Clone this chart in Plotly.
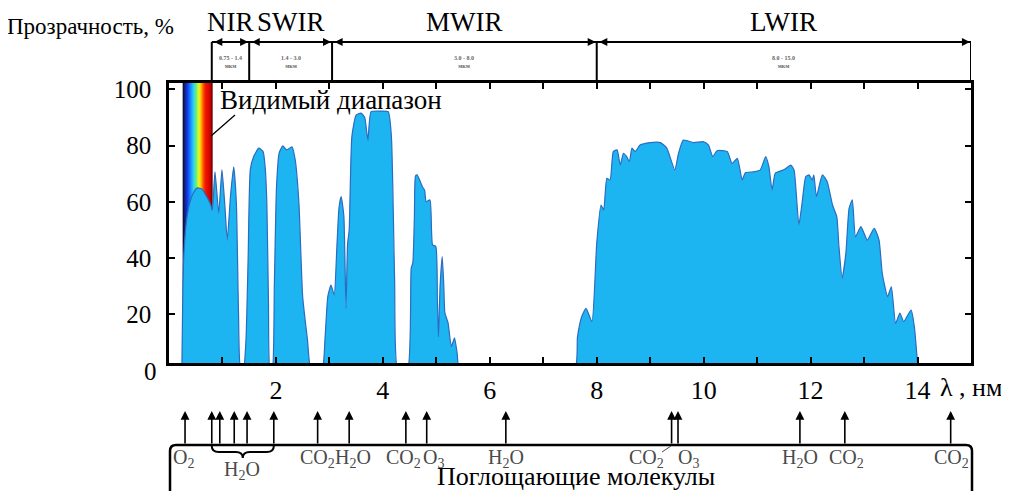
import plotly.graph_objects as go
import numpy as np

# ---------------- data ----------------
# atmospheric transmission (%), wavelength in micrometres
wl = [0.24, 0.26, 0.28, 0.32, 0.38, 0.45, 0.53, 0.62, 0.70, 0.78, 0.81,
      0.86, 0.93, 0.99, 1.04, 1.09, 1.15, 1.21, 1.26, 1.30, 1.34,
      1.39, 1.44, 1.48, 1.52, 1.58, 1.68, 1.76, 1.80, 1.83, 1.86, 1.89,
      1.93, 1.97, 2.01, 2.06, 2.13, 2.20, 2.30, 2.36, 2.43, 2.50, 2.59, 2.66,
      2.86, 2.92, 2.97, 3.03, 3.09, 3.14, 3.18, 3.22, 3.27, 3.31, 3.34, 3.37,
      3.42, 3.50, 3.59, 3.66, 3.72, 3.78, 3.95, 4.10, 4.16, 4.22, 4.28,
      4.46, 4.53, 4.56, 4.59, 4.61, 4.64, 4.74, 4.78, 4.81, 4.88, 4.91, 4.93,
      4.99, 5.02, 5.04, 5.07, 5.11, 5.14, 5.16, 5.22, 5.28, 5.34, 5.39, 5.44,
      7.58, 7.64, 7.72, 7.80, 7.91, 8.00, 8.08, 8.13, 8.19, 8.25, 8.31, 8.38,
      8.44, 8.50, 8.56, 8.61, 8.66, 8.72, 8.81, 9.00, 9.19, 9.31, 9.46, 9.53,
      9.62, 9.81, 10.00, 10.09, 10.17, 10.25, 10.44, 10.53, 10.63, 10.72,
      10.78, 10.94, 11.06, 11.16, 11.22, 11.28, 11.34, 11.50, 11.63, 11.69,
      11.78, 11.84, 11.91, 11.97, 12.03, 12.06, 12.11, 12.22, 12.31, 12.41,
      12.49, 12.53, 12.59, 12.66, 12.72, 12.78, 12.84, 12.94, 13.00, 13.06,
      13.19, 13.28, 13.34, 13.44, 13.51, 13.59, 13.67, 13.74, 13.88, 13.94, 14.01]
tr = [0, 30, 42, 52, 59, 63, 65, 64.5, 62, 59, 57,
      70.7, 56, 71.4, 60, 46.4, 62, 72.5, 59.6, 20.5, 0,
      0, 10.9, 40, 71.4, 76, 79.1, 77.9, 72, 59.6, 25, 0,
      0, 30, 65, 77.4, 79.9, 78.5, 79.6, 75, 59.6, 26.3, 10.9, 0,
      0, 12, 26.3, 30.4, 26.9, 44.1, 58, 61.9, 55, 22.2, 45, 50,
      83.2, 90.9, 91.6, 90, 82, 92.1, 92.3, 92.1, 83.2, 32.2, 0,
      0, 36.4, 38.3, 55, 69.2, 69.6, 65.4, 64.2, 60.1, 60.7, 50, 44.7,
      44.1, 25, 12, 30, 40.5, 30, 20.5, 16.9, 8.5, 11.6, 6, 0,
      0, 12, 19.2, 22.1, 17.4, 45.3, 58.9, 57.1, 68.4, 67.8, 77.9, 78.5,
      73.1, 77.3, 76.1, 74.3, 79.1, 77.9, 80.2, 81.1, 81.1, 79.1, 71.4, 77.3,
      82.0, 81.1, 81.4, 80.2, 76.1, 78.2, 77.9, 73.7, 75.5, 67.8,
      70.4, 70.7, 71.4, 76.1, 72.5, 64.2, 70.2, 71.4, 73.1, 71.4,
      51.8, 59.5, 69.0, 69.6, 67.8, 69.6, 61.9, 69.6, 67.2, 58.9,
      54.7, 44.1, 32.8, 41.7, 57.7, 60.7, 47.6, 51.2, 48.8, 46.4,
      50.6, 46.4, 34.6, 26.3, 29.8, 16.8, 20.4, 17.4, 21.5, 15.6, 0]

x_ticks = [2, 4, 6, 8, 10, 12, 14]
y_ticks = [20, 40, 60, 80, 100]

visible_band = [0.26, 0.81]

band_names = ["NIR", "SWIR", "MWIR", "LWIR"]
band_ranges = ["0.75 - 1.4", "1.4 - 3.0", "3.0 - 8.0", "8.0 - 15.0"]
band_edges = [0.8, 1.5, 3.05, 8.0, 15.0]

mol_arrow_x = [0.30, 0.80, 0.95, 1.22, 1.46, 1.96, 2.78, 3.37, 4.43, 4.82,
               6.30, 9.40, 9.52, 11.80, 12.64, 14.62]
mol_labels = ["O<sub>2</sub>", "CO<sub>2</sub>", "H<sub>2</sub>O", "CO<sub>2</sub>",
              "O<sub>3</sub>", "H<sub>2</sub>O", "CO<sub>2</sub>", "O<sub>3</sub>",
              "H<sub>2</sub>O", "CO<sub>2</sub>", "CO<sub>2</sub>"]
mol_label_x = [0.27, 2.78, 3.44, 4.38, 4.94, 6.30, 8.93, 9.71, 11.80, 12.67, 14.64]
brace_label = "H<sub>2</sub>O"
brace_span = [0.80, 1.96]

# ---------------- geometry helpers ----------------
# page body has an 8px margin; figure placed at (8, 8) in the window
OFF = 8
WIN_W, WIN_H = 1009, 491
PLOT_L, PLOT_R, PLOT_T, PLOT_B = 169, 971, 83, 363   # window pixels
W, H = WIN_W - OFF, WIN_H - OFF
PW, PH = PLOT_R - PLOT_L, PLOT_B - PLOT_T
L, T = PLOT_L - OFF, PLOT_T - OFF
R, B = W - L - PW, H - T - PH
Y0, Y1 = 2.67, 102.3


def px(x):
    return (x - PLOT_L) / PW


def py(y):
    return (PLOT_B - y) / PH


SERIF = "Liberation Serif"
FILL = "#1db4f2"
EDGE = "#2b6cc0"

fig = go.Figure()

# rainbow of the visible range
nv = 60
vx = np.linspace(visible_band[0], visible_band[1], nv)
fig.add_trace(go.Heatmap(
    x=vx, y=[0, 110], z=[list(np.linspace(0, 1, nv))] * 2,
    colorscale=[[0.0, "#0a1030"], [0.05, "#15207a"], [0.14, "#1038f0"],
                [0.26, "#1a90ff"], [0.36, "#30d8f0"], [0.45, "#70f070"],
                [0.53, "#e8ff20"], [0.6, "#ffc000"], [0.67, "#ff6000"],
                [0.75, "#f01800"], [0.92, "#d00000"], [1.0, "#400000"]],
    showscale=False, hoverinfo="skip", zsmooth="best"))

fig.add_trace(go.Scatter(
    x=wl, y=tr, mode="lines", fill="tozeroy", fillcolor=FILL,
    line=dict(color=EDGE, width=1.2, shape="spline", smoothing=0.5),
    hoverinfo="skip"))

fig.update_xaxes(
    range=[0, 15], showgrid=False, zeroline=False,
    showline=True, linecolor="black", linewidth=2.5, mirror="ticks",
    ticks="inside", ticklen=6, tickwidth=1.5, tickcolor="black",
    tickvals=list(range(0, 16)),
    ticktext=[str(v) if v in x_ticks else "" for v in range(0, 16)],
    tickfont=dict(family=SERIF, size=26, color="black"),
    ticklabelstandoff=2)
fig.update_yaxes(
    range=[Y0, Y1], showgrid=False, zeroline=False,
    showline=True, linecolor="black", linewidth=2.5, mirror="ticks",
    ticks="inside", ticklen=6, tickwidth=1.5, tickcolor="black",
    tickvals=y_ticks, ticktext=[str(v) for v in y_ticks],
    tickfont=dict(family=SERIF, size=25, color="black"),
    ticklabelstandoff=10)

shapes = []
ann = []


def text(x, y, s, size, color="black", xanchor="center", xref="paper"):
    ann.append(dict(x=x, y=y, xref=xref, yref="paper", text=s, showarrow=False,
                    xanchor=xanchor, yanchor="middle",
                    font=dict(family=SERIF, size=size, color=color)))


# "0" label of the y axis
text(px(150), py(371), "0", 25)
# y title
text(px(5), py(26), "Прозрачность, %", 23, xanchor="left")
# x unit
text(px(938), py(387), "λ , нм", 26, xanchor="left")
# visible range label
text(px(218), py(100), "Видимый диапазон", 27, xanchor="left")
shapes.append(dict(type="line", xref="paper", yref="paper",
                   x0=px(235), y0=py(115), x1=px(211), y1=py(136),
                   line=dict(color="black", width=1.3)))

# band box at top
ytop, ybot = 42, 83
shapes.append(dict(type="line", xref="x", yref="paper",
                   x0=band_edges[0], x1=band_edges[-1], y0=py(ytop), y1=py(ytop),
                   line=dict(color="black", width=2)))
for e in band_edges:
    shapes.append(dict(type="line", xref="x", yref="paper", x0=e, x1=e,
                       y0=py(ytop), y1=py(ybot), line=dict(color="black", width=2)))
for i, name in enumerate(band_names):
    a, b = band_edges[i], band_edges[i + 1]
    c = (a + b) / 2
    text(c, py(22), name, 27, xref="x")
    text(c, py(62), "<b>" + band_ranges[i] + "</b><br><b>мкм</b>", 6,
         color="#666666", xref="x")
    ann.append(dict(x=b - 0.02, y=py(ytop), xref="x", yref="paper",
                    ax=a + 0.02, ay=0, axref="x", ayref="pixel",
                    text="", showarrow=True, arrowhead=2, arrowside="end+start",
                    arrowsize=0.8, arrowwidth=2, arrowcolor="black",
                    standoff=0, startstandoff=0))

# molecules box at bottom
yb = 445
path = (f"M {px(170)},{py(500)} L {px(170)},{py(yb+6)} Q {px(170)},{py(yb)} {px(176)},{py(yb)} "
        f"L {px(966)},{py(yb)} Q {px(972)},{py(yb)} {px(972)},{py(yb+6)} L {px(972)},{py(500)}")
shapes.append(dict(type="path", xref="paper", yref="paper", path=path,
                   line=dict(color="black", width=2.5)))
for xv in mol_arrow_x:
    ann.append(dict(x=xv, y=py(411), xref="x", yref="paper", ax=0, ay=yb - 411,
                    text="", showarrow=True, arrowhead=2, arrowsize=1.1,
                    arrowwidth=1.6, arrowcolor="black"))
for t, xv in zip(mol_labels, mol_label_x):
    text(xv, py(458), t, 20, color="#4a4a4a", xref="x")
# brace under H2O arrows
x0b = PLOT_L + brace_span[0] * PW / 15
x1b = PLOT_L + brace_span[1] * PW / 15
xm = (x0b + x1b) / 2
bp = (f"M {px(x0b)},{py(446)} Q {px(x0b)},{py(452)} {px(x0b+7)},{py(452)} "
      f"L {px(xm-7)},{py(452)} Q {px(xm)},{py(452)} {px(xm)},{py(458)} "
      f"Q {px(xm)},{py(452)} {px(xm+7)},{py(452)} L {px(x1b-7)},{py(452)} "
      f"Q {px(x1b)},{py(452)} {px(x1b)},{py(446)}")
shapes.append(dict(type="path", xref="paper", yref="paper", path=bp,
                   line=dict(color="black", width=2)))
text((brace_span[0] + brace_span[1]) / 2 - 0.02, py(470), brace_label, 20,
     color="#4a4a4a", xref="x")
# small connector for CO2 near 9.4
shapes.append(dict(type="line", xref="paper", yref="paper",
                   x0=px(662), y0=py(452), x1=px(671), y1=py(446),
                   line=dict(color="#4a4a4a", width=1)))
text(px(576), py(477), "Поглощающие молекулы", 26)

fig.update_layout(width=W, height=H, margin=dict(l=L, r=R, t=T, b=B, pad=0),
                  paper_bgcolor="white", plot_bgcolor="white", showlegend=False,
                  shapes=shapes, annotations=ann)
fig.write_html("out.html")
